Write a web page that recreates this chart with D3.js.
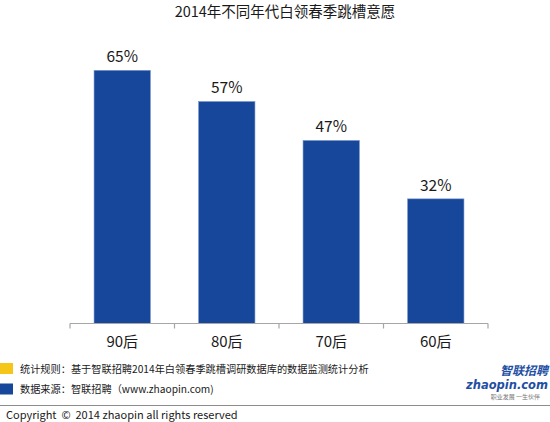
<!DOCTYPE html>
<meta charset="utf-8">
<style>
  body { margin: 0; background: #fff; }
  text { font-family: "Noto Sans CJK SC", "Noto Sans", sans-serif; fill: #1a1a1a; }
</style>
<script src="https://d3js.org/d3.v7.min.js"></script>
<div id="chart"></div>
<script>
  // 数据
  const categories = ["90后", "80后", "70后", "60后"];
  const values = [65, 57, 47, 32];
  const title = "2014年不同年代白领春季跳槽意愿";
  const notes = [
    { color: "#f5c518", text: "统计规则：基于智联招聘2014年白领春季跳槽调研数据库的数据监测统计分析" },
    { color: "#17479a", text: "数据来源：智联招聘（www.zhaopin.com)" }
  ];
  const copyright = "Copyright  ©  2014 zhaopin all rights reserved";

  const W = 550, H = 422;
  const svg = d3.select("#chart").append("svg")
      .attr("width", W).attr("height", H);

  // title
  svg.append("text")
      .attr("x", 285).attr("y", 16.5)
      .attr("text-anchor", "middle")
      .attr("font-size", 14.5)
      .text(title);

  // scales
  const x = d3.scaleBand().domain(categories).range([70, 488]).paddingInner(0.46).paddingOuter(0.23);
  const y = d3.scaleLinear().domain([0, 65]).range([323.5, 70.3]);

  // bars
  svg.append("g").selectAll("rect").data(values).enter()
    .append("rect")
      .attr("x", (d, i) => x(categories[i]))
      .attr("y", d => y(d))
      .attr("width", x.bandwidth())
      .attr("height", d => y(0) - y(d))
      .attr("fill", "#17479a")
      .attr("stroke", "#7f9bd0")
      .attr("stroke-width", 0.6);

  // value labels
  svg.append("g").selectAll("text").data(values).enter()
    .append("text")
      .attr("x", (d, i) => x(categories[i]) + x.bandwidth() / 2)
      .attr("y", d => y(d) - 8)
      .attr("text-anchor", "middle")
      .attr("font-size", 15.5)
      .text(d => d + "%");

  // x axis, ticks between categories
  const axisY = 323.5;
  const gx = svg.append("g");
  gx.append("line")
      .attr("x1", 70).attr("x2", 488)
      .attr("y1", axisY).attr("y2", axisY)
      .attr("stroke", "#a6a6a6").attr("stroke-width", 1.2);
  const tickPos = d3.range(5).map(i => 70 + i * (488 - 70) / 4);
  gx.selectAll(".tk").data(tickPos).enter().append("line")
      .attr("x1", d => d).attr("x2", d => d)
      .attr("y1", axisY).attr("y2", axisY + 5)
      .attr("stroke", "#a6a6a6").attr("stroke-width", 1.2);
  gx.selectAll(".lb").data(categories).enter().append("text")
      .attr("x", d => x(d) + x.bandwidth() / 2)
      .attr("y", 347)
      .attr("text-anchor", "middle")
      .attr("font-size", 15)
      .text(d => d);

  // footnotes
  const fn = svg.append("g");
  fn.selectAll("rect").data(notes).enter().append("rect")
      .attr("x", 0).attr("y", (d, i) => 363 + i * 20.5)
      .attr("width", 13).attr("height", 11)
      .attr("fill", d => d.color);
  fn.selectAll("text").data(notes).enter().append("text")
      .attr("x", 20).attr("y", (d, i) => 372.5 + i * 20.5)
      .attr("font-size", 10.2)
      .text(d => d.text);

  // separator
  svg.append("line")
      .attr("x1", 0).attr("x2", W)
      .attr("y1", 405.5).attr("y2", 405.5)
      .attr("stroke", "#8c8c8c").attr("stroke-width", 1);

  svg.append("text")
      .attr("x", 6).attr("y", 418.5)
      .attr("font-size", 11)
      .attr("xml:space", "preserve")
      .style("white-space", "pre")
      .text(copyright);

  // logo
  const logo = svg.append("g");
  logo.append("text")
      .attr("x", 548).attr("y", 375)
      .attr("text-anchor", "end")
      .attr("font-size", 12).attr("font-weight", 700).attr("font-style", "italic")
      .style("fill", "#1f4fa3")
      .text("智联招聘");
  logo.append("text")
      .attr("x", 548).attr("y", 389)
      .attr("text-anchor", "end")
      .attr("font-size", 11.5).attr("font-weight", 700).attr("font-style", "italic")
      .style("font-family", "DejaVu Sans")
      .style("fill", "#1f4fa3")
      .text("zhaopin.com");
  logo.append("text")
      .attr("x", 540).attr("y", 399)
      .attr("text-anchor", "end")
      .attr("font-size", 6)
      .style("fill", "#777")
      .text("职业发展  一生伙伴");
</script>
